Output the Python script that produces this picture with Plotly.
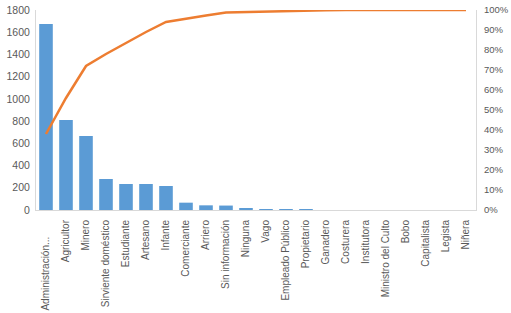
import plotly.graph_objects as go

categories = ["Administración...", "Agricultor", "Minero", "Sirviente doméstico", "Estudiante",
              "Artesano", "Infante", "Comerciante", "Arriero", "Sin información", "Ninguna",
              "Vago", "Empleado Público", "Propietario", "Ganadero", "Costurera", "Institutora",
              "Ministro del Culto", "Bobo", "Capitalista", "Legista", "Niñera"]
counts = [1674, 810, 666, 279, 234, 234, 216, 66, 42, 40, 12, 3, 2, 2, 0, 0, 0, 0, 0, 0, 0, 0]
cumulative_pct = [0.38, 0.56, 0.72, 0.78, 0.835, 0.89, 0.94, 0.957, 0.973, 0.987, 0.99, 0.993,
                  0.995, 0.998, 0.999, 1.0, 1.0, 1.0, 1.0, 1.0, 1.0, 1.0]
left_ticks = [0, 200, 400, 600, 800, 1000, 1200, 1400, 1600, 1800]
right_ticks = [i / 10 for i in range(11)]

# the truncated first label sits a little lower in the original
tick_labels = [categories[0] + "\u00a0" * 6] + categories[1:]

font_family = "Liberation Sans, Arial, sans-serif"
tick_color = "#595959"
axis_color = "#D9D9D9"

fig = go.Figure()
fig.add_trace(go.Bar(x=categories, y=counts, marker_color="#5B9BD5", marker_line_width=0,
                     name="Frecuencia"))
fig.add_trace(go.Scatter(x=categories, y=cumulative_pct, mode="lines", yaxis="y2",
                         line=dict(color="#ED7D31", width=2.5), name="% acumulado"))

fig.update_layout(
    width=511, height=313,
    margin=dict(l=36, r=35, t=10, b=103, autoexpand=False),
    paper_bgcolor="white", plot_bgcolor="white",
    showlegend=False,
    bargap=0.32,
    font=dict(family=font_family, size=10, color=tick_color),
    xaxis=dict(tickangle=-90, showgrid=False, showline=True, linecolor=axis_color,
               linewidth=1, ticks="", automargin=False, ticklabelstandoff=5,
               tickmode="array", tickvals=categories, ticktext=tick_labels,
               tickfont=dict(size=10, color=tick_color)),
    yaxis=dict(range=[0, 1800], tickvals=left_ticks, showgrid=False, showline=True,
               linecolor=axis_color, linewidth=1, ticks="", zeroline=False, automargin=False,
               ticklabelstandoff=3,
               tickfont=dict(size=10.5, color=tick_color)),
    yaxis2=dict(range=[0, 1.0], tickvals=right_ticks, tickformat=".0%", overlaying="y",
                side="right", showgrid=False, showline=True, linecolor=axis_color,
                linewidth=1, ticks="", zeroline=False, automargin=False,
                ticklabelstandoff=5,
                tickfont=dict(size=9.5, color=tick_color)),
)

fig.write_html("out.html", config={"displayModeBar": False},
               post_script="document.body.style.margin='0';")
